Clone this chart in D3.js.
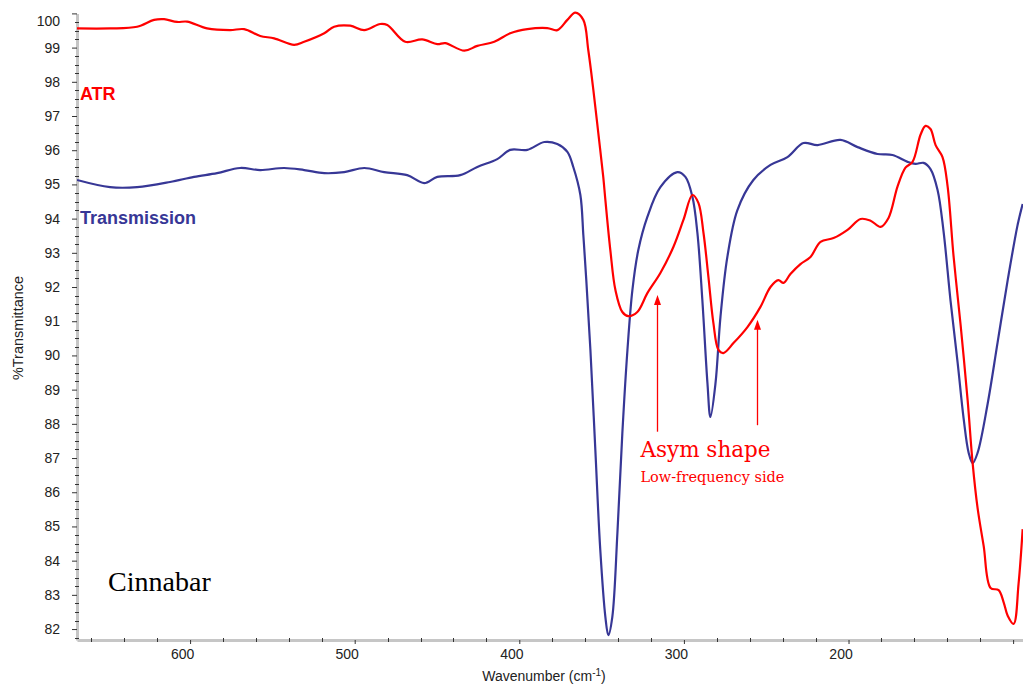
<!DOCTYPE html>
<html>
<head>
<meta charset="utf-8">
<script src="https://cdn.jsdelivr.net/npm/d3@7"></script>
<style>
  body { margin: 0; background: #fff; }
</style>
</head>
<body>
<script>
// ATR spectrum (red)
var atrWn = [668.7,648.6,632.2,621.9,615.8,607.9,601.8,589.7,575.7,567.2,557.4,548.9,536.8,530.7,518.5,512.5,502.7,494.2,484.5,480.2,
  469.3,459.0,449.8,445.0,433.4,425.5,415.2,405.5,395.1,383.0,376.9,370.8,366.0,361.1,358.1,355.0,352.0,349.0,347.7,344.7,
  341.6,337.4,333.7,328.3,322.2,314.3,306.4,300.3,294.8,291.2,288.1,285.1,282.1,279.0,276.0,269.9,261.4,253.5,247.4,242.6,
  239.5,235.3,229.2,223.1,217.0,209.1,200.6,192.7,186.6,180.5,175.7,170.2,165.4,161.1,156.2,153.2,150.2,147.1,142.9,139.8,
  136.2,131.9,127.6,124.6,121.6,117.9,113.7,108.8,105.8,103.3,99.7,96.7,94.2];
var atrT = [99.56,99.56,99.61,99.81,99.83,99.75,99.76,99.56,99.51,99.54,99.34,99.27,99.08,99.17,99.42,99.61,99.64,99.51,99.69,99.66,
  99.17,99.24,99.10,99.13,98.91,99.05,99.17,99.42,99.54,99.57,99.51,99.81,100.02,99.81,98.93,97.76,96.50,95.22,94.54,93.08,
  91.91,91.27,91.15,91.27,91.82,92.41,93.17,93.96,94.69,94.46,93.58,92.29,90.95,90.16,90.07,90.36,90.83,91.42,92.00,92.20,
  92.12,92.38,92.67,92.88,93.32,93.43,93.67,93.99,93.94,93.76,94.02,94.94,95.49,95.66,96.46,96.71,96.62,96.15,95.80,94.94,
  92.91,90.89,88.67,86.85,85.54,84.43,83.20,83.14,82.79,82.39,82.15,83.32,84.92];

// Transmission spectrum (blue)
var trWn = [668.7,648.6,632.2,612.2,597.6,583.6,569.6,557.4,542.9,530.7,518.5,506.4,494.2,482.1,468.1,457.8,449.8,435.9,425.5,413.4,
  405.5,395.1,384.8,376.9,370.8,367.2,362.9,361.1,359.3,356.8,353.8,350.8,347.7,345.9,343.5,340.4,337.4,334.3,331.3,327.7,
  322.2,314.3,304.0,299.1,294.8,291.8,288.8,285.7,283.9,280.8,277.8,273.6,267.5,257.8,247.4,237.1,227.4,218.8,204.9,194.5,
  182.4,173.3,164.1,159.3,154.4,150.2,145.9,142.3,138.0,133.7,130.1,127.0,124.6,121.6,115.5,109.4,103.3,97.3,94.2];
var trT = [95.13,94.92,94.92,95.07,95.22,95.33,95.48,95.42,95.48,95.42,95.33,95.36,95.48,95.36,95.27,95.04,95.22,95.27,95.51,95.74,
  96.01,96.01,96.24,96.18,95.95,95.51,94.69,93.52,92.20,90.16,87.23,84.31,82.35,81.82,82.35,84.81,87.73,90.16,91.91,93.08,
  94.05,94.92,95.36,95.22,94.63,93.58,91.62,89.19,88.20,89.19,91.12,92.88,94.25,95.13,95.57,95.80,96.21,96.15,96.30,96.09,
  95.89,95.86,95.66,95.60,95.63,95.45,94.84,93.64,91.59,89.78,88.17,87.15,86.85,87.15,88.58,90.39,92.20,93.81,94.43];

var xTicks = [600,500,400,300,200,100];
var yTicks = [82,83,84,85,86,87,88,89,90,91,92,93,94,95,96,97,98,99,100];

var width = 1023,
    height = 685;

var x = d3.scaleLinear().domain([668.7, 94]).range([77, 1023]);
var y = d3.scaleLinear().domain([81.68, 100]).range([640, 13.4]);

var svg = d3.select("body").append("svg")
    .attr("width", width)
    .attr("height", height)
    .style("font-family", "'Liberation Sans', Arial, sans-serif");

svg.append("clipPath").attr("id", "plot")
  .append("rect").attr("x", 77).attr("y", 0).attr("width", 946).attr("height", 640);

// axes
var yAxis = svg.append("g")
    .attr("transform", "translate(77,0)")
    .call(d3.axisLeft(y).tickValues(yTicks).tickSize(5).tickSizeOuter(0).tickPadding(12).tickFormat(d3.format("d")));
yAxis.attr("font-family", null).attr("font-size", null);
yAxis.select(".domain").attr("stroke", "#c6c6c6").attr("stroke-width", 3);
yAxis.selectAll(".tick line").attr("stroke", "#333");
yAxis.selectAll(".tick text").attr("font-size", 14).attr("fill", "#222");
yAxis.selectAll(".tick text").filter(function(d) { return d === 100; }).attr("y", 8);

var xAxis = svg.append("g")
    .attr("transform", "translate(0,640)")
    .call(d3.axisBottom(x).tickValues(xTicks).tickSize(4).tickSizeOuter(0).tickPadding(5)
      .tickFormat(function(d) { return d === 100 ? "" : d; }));
xAxis.attr("font-family", null).attr("font-size", null);
xAxis.select(".domain").attr("stroke", "#c6c6c6").attr("stroke-width", 3);
xAxis.selectAll(".tick line").attr("stroke", "#333");
xAxis.selectAll(".tick text").attr("font-size", 14).attr("fill", "#222").attr("dx", -8);

// minor ticks
var yMinor = d3.range(81.75, 100, 0.25).filter(function(d) { return d % 1 !== 0; });
svg.append("g").selectAll("line").data(yMinor).enter().append("line")
    .attr("x1", 75).attr("x2", 79)
    .attr("y1", function(d) { return Math.round(y(d)) + 0.5; })
    .attr("y2", function(d) { return Math.round(y(d)) + 0.5; })
    .attr("stroke", "#333");
var xMinor = d3.range(660, 94, -20).filter(function(d) { return d % 100 !== 0; });
svg.append("g").selectAll("line").data(xMinor).enter().append("line")
    .attr("x1", function(d) { return Math.round(x(d)) + 0.5; })
    .attr("x2", function(d) { return Math.round(x(d)) + 0.5; })
    .attr("y1", 638).attr("y2", 642)
    .attr("stroke", "#333");

// axis titles
var xt = svg.append("text").attr("x", 544).attr("y", 681)
    .attr("text-anchor", "middle").attr("font-size", 14).attr("fill", "#222");
xt.append("tspan").text("Wavenumber (cm");
xt.append("tspan").attr("font-size", 10).attr("dy", -5).text("-1");
xt.append("tspan").attr("dy", 5).text(")");

svg.append("text")
    .attr("transform", "translate(23,328) rotate(-90)")
    .attr("text-anchor", "middle").attr("font-size", 14.5).attr("fill", "#222")
    .text("%Transmittance");

// curves
var line = d3.line()
    .x(function(d) { return x(d[0]); })
    .y(function(d) { return y(d[1]); })
    .curve(d3.curveCatmullRom.alpha(0.5));

var plot = svg.append("g").attr("clip-path", "url(#plot)");
plot.append("path")
    .datum(d3.zip(trWn, trT))
    .attr("fill", "none").attr("stroke", "#373796").attr("stroke-width", 2.2)
    .attr("d", line);
plot.append("path")
    .datum(d3.zip(atrWn, atrT))
    .attr("fill", "none").attr("stroke", "#ff0000").attr("stroke-width", 2.2)
    .attr("d", line);

// labels
svg.append("text").attr("x", x(666.9)).attr("y", y(97.47))
    .attr("font-size", 18).attr("font-weight", "bold").attr("fill", "#ff0000").text("ATR");
svg.append("text").attr("x", x(666.9)).attr("y", y(93.84))
    .attr("font-size", 18).attr("font-weight", "bold").attr("fill", "#373796").text("Transmission");
svg.append("text").attr("x", x(649.8)).attr("y", y(83.11))
    .attr("font-family", "'Liberation Serif', 'Times New Roman', serif").attr("font-size", 28)
    .attr("fill", "#000").text("Cinnabar");

// annotation arrows
var arrows = [[316.3, 87.77, 91.77], [255.5, 87.96, 91.04]];
var ann = svg.append("g").attr("fill", "#ff0000").attr("stroke", "#ff0000");
arrows.forEach(function(a) {
  var ax = Math.round(x(a[0])) + 0.5, y0 = y(a[1]), y1 = y(a[2]);
  ann.append("line").attr("x1", ax).attr("x2", ax).attr("y1", y0).attr("y2", y1 + 6).attr("stroke-width", 1.3);
  ann.append("path").attr("stroke", "none")
    .attr("d", "M" + ax + "," + y1 + "L" + (ax - 3.5) + "," + (y1 + 10) + "L" + (ax + 3.5) + "," + (y1 + 10) + "Z");
});
svg.append("text").attr("x", x(326.4)).attr("y", y(87.03))
    .attr("font-family", "'DejaVu Serif', serif").attr("font-size", 21.5).attr("fill", "#ff0000")
    .text("Asym shape");
svg.append("text").attr("x", x(326.4)).attr("y", y(86.30))
    .attr("font-family", "'DejaVu Serif', serif").attr("font-size", 14.5).attr("fill", "#ff0000")
    .text("Low-frequency side");
</script>
</body>
</html>
